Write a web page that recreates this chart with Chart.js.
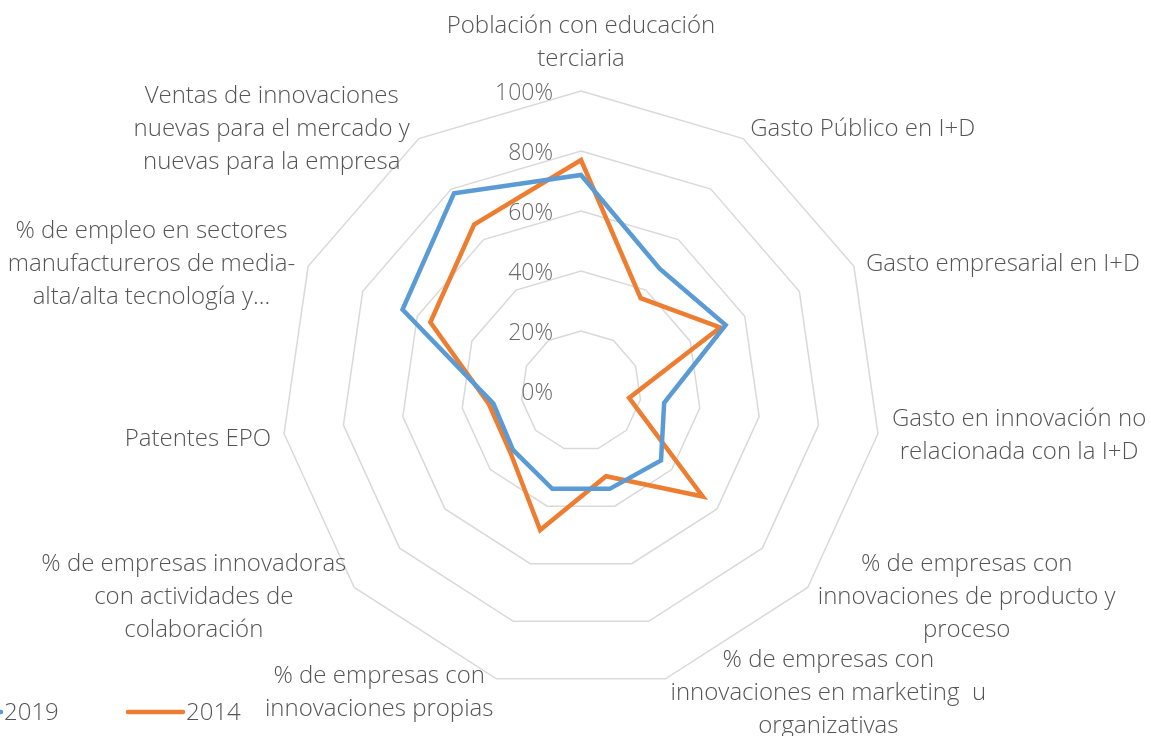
<!DOCTYPE html>
<html lang="es">
<head>
<meta charset="utf-8">
<title>Indicadores de innovación 2014 - 2019</title>
<script src="https://cdn.jsdelivr.net/npm/chart.js@4.4.1/dist/chart.umd.min.js"></script>
<style>
  html, body { margin: 0; padding: 0; background: #ffffff; }
  #wrap { width: 1151px; height: 736px; position: relative; }
</style>
</head>
<body>
<div id="wrap"><canvas id="radar" width="1151" height="736"></canvas></div>
<script>
// Indicator names (one entry per axis, lines split where the label wraps)
const categories = [
  ['Población con educación', 'terciaria'],
  ['Gasto Público en I+D'],
  ['Gasto empresarial en I+D'],
  ['Gasto en innovación no', 'relacionada con la I+D'],
  ['% de empresas con', 'innovaciones de producto y', 'proceso'],
  ['% de empresas con', 'innovaciones en marketing  u', 'organizativas'],
  ['% de empresas con', 'innovaciones propias'],
  ['% de empresas innovadoras', 'con actividades de', 'colaboración'],
  ['Patentes EPO'],
  ['% de empleo en sectores', 'manufactureros de media-', 'alta/alta tecnología y…'],
  ['Ventas de innovaciones', 'nuevas para el mercado y', 'nuevas para la empresa']
];

// Values in percent
const values2019 = [72, 48.5, 53, 28, 35.3, 34, 34, 30, 29.5, 65.4, 78.3];
const values2014 = [77, 36.8, 51, 16.2, 53.7, 29.6, 48.3, 31.2, 31, 55.2, 65.9];

const seriesLabels = ['2019', '2014'];
const seriesColors = ['#5B9BD5', '#ED7D31'];

// Radial scale ticks
const tickValues = [0, 20, 40, 60, 80, 100];

const FONT_FAMILY = '"Open Sans", "Segoe UI", sans-serif';
const LABEL_SIZE = 24;
const TICK_SIZE = 23;
const FONT_WEIGHT = 300;
const LINE_H = 33;
const TEXT_COLOR = '#555555';
const TICK_COLOR = '#6a6a6a';

// Placement of each axis title relative to the outer vertex of its axis:
// side = which side of the vertex the text block sits on, dx/dy = block offset
const labelPlacement = [
  { side: 'center', dx: 0,   dy: -48 },
  { side: 'left',   dx: 7,   dy: -9 },
  { side: 'left',   dx: 12,  dy: -2 },
  { side: 'left',   dx: 14,  dy: 2 },
  { side: 'left',   dx: 10,  dy: 10 },
  { side: 'left',   dx: 5,   dy: 14 },
  { side: 'right',  dx: -3,  dy: 14 },
  { side: 'right',  dx: -8,  dy: 10 },
  { side: 'right',  dx: -13, dy: 5 },
  { side: 'right',  dx: -13, dy: -2 },
  { side: 'right',  dx: -9,  dy: -9 }
];

function fontString(size) {
  return FONT_WEIGHT + ' ' + size + 'px ' + FONT_FAMILY;
}

// Draws axis titles, percentage ticks and the legend
const decorations = {
  id: 'decorations',
  afterDraw(chart) {
    const ctx = chart.ctx;
    const scale = chart.scales.r;
    ctx.save();
    ctx.textBaseline = 'middle';

    // tick labels, right-aligned beside the vertical axis
    ctx.font = fontString(TICK_SIZE);
    ctx.fillStyle = TICK_COLOR;
    ctx.textAlign = 'right';
    tickValues.forEach(v => {
      const d = scale.getDistanceFromCenterForValue(v);
      ctx.fillText(v + '%', scale.xCenter - 28, scale.yCenter - d + 2);
    });

    // axis titles
    ctx.font = fontString(LABEL_SIZE);
    ctx.fillStyle = TEXT_COLOR;
    ctx.textAlign = 'center';
    categories.forEach((lines, i) => {
      const p = scale.getPointPosition(i, scale.drawingArea);
      const place = labelPlacement[i];
      const w = Math.max(...lines.map(l => ctx.measureText(l).width));
      const h = lines.length * LINE_H;
      let cx;
      if (place.side === 'left') cx = p.x + place.dx + w / 2;
      else if (place.side === 'right') cx = p.x + place.dx - w / 2;
      else cx = p.x + place.dx;
      const cy = p.y + place.dy;
      lines.forEach((line, k) => {
        ctx.fillText(line, cx, cy - h / 2 + LINE_H * (k + 0.5));
      });
    });

    // legend along the bottom-left edge
    const legendY = 712;
    const itemStep = 182;
    const sampleLen = 55;
    let x = -54;
    ctx.textAlign = 'left';
    chart.data.datasets.forEach(ds => {
      ctx.strokeStyle = ds.borderColor;
      ctx.lineWidth = 4.5;
      ctx.lineCap = 'round';
      ctx.beginPath();
      ctx.moveTo(x, legendY);
      ctx.lineTo(x + sampleLen, legendY);
      ctx.stroke();
      ctx.fillStyle = TEXT_COLOR;
      ctx.fillText(ds.label, x + sampleLen + 3, legendY + 1);
      x += itemStep;
    });
    ctx.restore();
  }
};

new Chart(document.getElementById('radar'), {
  type: 'radar',
  data: {
    labels: categories,
    datasets: [
      {
        label: seriesLabels[0],
        data: values2019,
        borderColor: seriesColors[0],
        backgroundColor: 'transparent',
        borderWidth: 4.5,
        pointRadius: 0,
        pointHoverRadius: 0,
        fill: false,
        tension: 0,
        borderJoinStyle: 'miter'
      },
      {
        label: seriesLabels[1],
        data: values2014,
        borderColor: seriesColors[1],
        backgroundColor: 'transparent',
        borderWidth: 4.5,
        pointRadius: 0,
        pointHoverRadius: 0,
        fill: false,
        tension: 0,
        borderJoinStyle: 'miter'
      }
    ]
  },
  options: {
    responsive: false,
    animation: false,
    layout: { padding: { left: 281, right: 270, top: 91, bottom: 45 } },
    plugins: {
      legend: { display: false },
      tooltip: { enabled: false }
    },
    scales: {
      r: {
        min: 0,
        max: 100,
        ticks: { stepSize: 20, display: false },
        angleLines: { display: false },
        grid: { color: '#d9d9d9', lineWidth: 1.5, circular: false },
        pointLabels: { display: false }
      }
    }
  },
  plugins: [decorations]
});
</script>
</body>
</html>
